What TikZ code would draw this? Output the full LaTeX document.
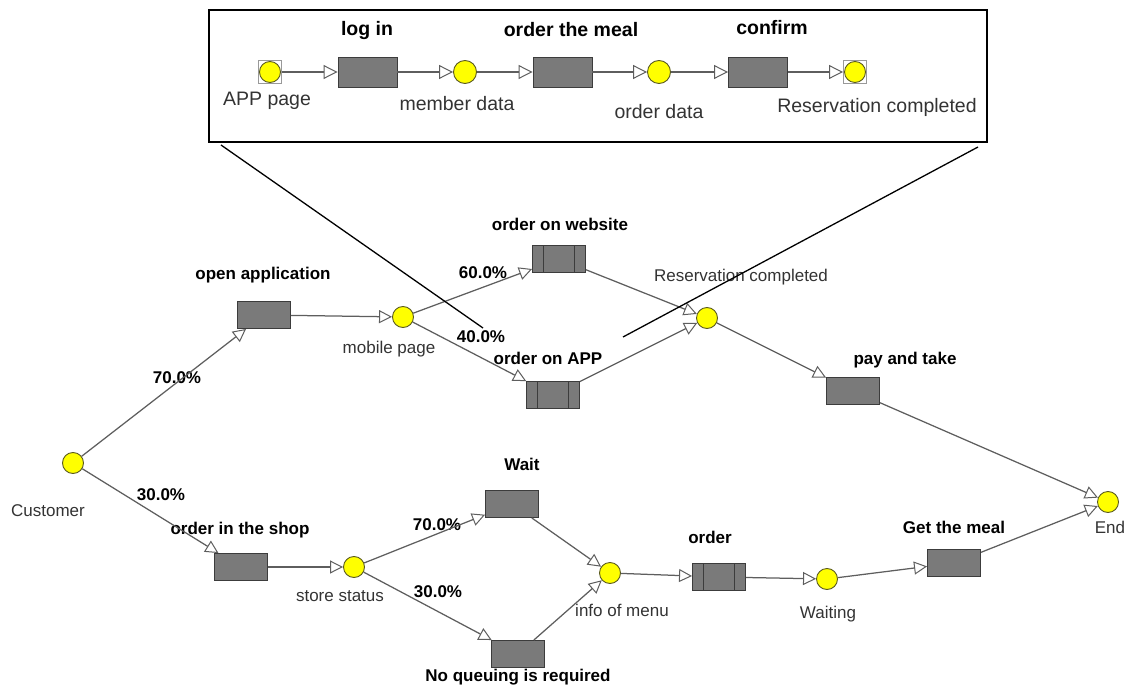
\documentclass[tikz,border=0pt]{standalone}
\usepackage{fontspec}
\setmainfont{Liberation Sans}
\usetikzlibrary{arrows.meta}

\definecolor{placefill}{HTML}{FFFF00}
\definecolor{placeedge}{HTML}{5A5A20}
\definecolor{taskfill}{HTML}{7A7A7A}
\definecolor{taskedge}{HTML}{3C3C3C}
\definecolor{flowline}{HTML}{5E5E5E}
\definecolor{labeltext}{HTML}{333333}

\tikzset{
  place/.style={circle, draw=placeedge, line width=0.9pt, fill=placefill,
    minimum size=21pt, inner sep=0pt},
  bigplace/.style={place, minimum size=23pt},
  endpoint/.style={rectangle, draw=gray!80, line width=0.9pt, minimum size=23pt,
    inner sep=0pt, path picture={\filldraw[fill=placefill, draw=placeedge, line width=0.9pt]
      (path picture bounding box.center) circle (10.5pt);}},
  task/.style={rectangle, draw=taskedge, line width=0.9pt, fill=taskfill,
    minimum width=53pt, minimum height=27pt, inner sep=0pt},
  bigtask/.style={task, minimum width=59pt, minimum height=30pt},
  subtask/.style={task, path picture={\draw[taskedge, line width=0.9pt]
      ([xshift=11pt]path picture bounding box.south west) -- ([xshift=11pt]path picture bounding box.north west)
      ([xshift=-11pt]path picture bounding box.south east) -- ([xshift=-11pt]path picture bounding box.north east);}},
  flow/.style={draw=flowline, line width=1.25pt, -{Triangle[length=13pt, width=13pt, fill=white, line width=1pt]}},
  bigflow/.style={draw=flowline, line width=1.25pt, -{Triangle[length=14pt, width=14pt, fill=white, line width=1pt]}},
  title/.style={font=\fontsize{17}{20}\selectfont\bfseries, text=black, inner sep=0pt},
  bigtitle/.style={font=\fontsize{19.5}{22}\selectfont\bfseries, text=black, inner sep=0pt},
  caption/.style={font=\fontsize{17}{20}\selectfont, text=labeltext, inner sep=0pt},
  bigcaption/.style={font=\fontsize{19.5}{22}\selectfont, text=labeltext, inner sep=0pt},
  zoomline/.style={draw=black, line width=1.3pt},
}

\begin{document}
\begin{tikzpicture}[x=1pt, y=-1pt]
\useasboundingbox (0,0) rectangle (1133,690);

% ---------- detail frame: the APP ordering sub-process ----------
\node[draw=black, line width=2pt, minimum width=778pt, minimum height=132pt, inner sep=0pt]
  (frame) at (598,76) {};

\node[endpoint] (appPage) at (270,72) {};
\node[bigtask]  (login)   at (367.5,72) {};
\node[bigplace] (member)  at (465,72) {};
\node[bigtask]  (meal)    at (562.5,72) {};
\node[bigplace] (orderd)  at (659,72) {};
\node[bigtask]  (confirm) at (758,72) {};
\node[endpoint] (resIn)   at (855,72) {};

\node[bigtitle] (tLogin)   at (367,31) {log in};
\node[bigtitle] (tMeal)    at (571,30) {order the meal};
\node[bigtitle] (tConfirm) at (772,28) {confirm};
\node[bigcaption] (cApp)    at (267,101) {APP page};
\node[bigcaption] (cMember) at (457,104) {member data};
\node[bigcaption] (cOrderd) at (659,112) {order data};
\node[bigcaption] (cRes)    at (877,107) {Reservation completed};

\draw[bigflow] (appPage) -- (login);
\draw[bigflow] (login) -- (member);
\draw[bigflow] (member) -- (meal);
\draw[bigflow] (meal) -- (orderd);
\draw[bigflow] (orderd) -- (confirm);
\draw[bigflow] (confirm) -- (resIn);

% ---------- main process ----------
\node[place]   (customer) at (73,463) {};
\node[task]    (openApp)  at (264,315) {};
\node[place]   (mobile)   at (403,317) {};
\node[subtask] (website)  at (559,259) {};
\node[subtask] (onApp)    at (553,395) {};
\node[place]   (reserved) at (707,318) {};
\node[task]    (pay)      at (853,391) {};
\node[place]   (finish)   at (1108,502) {};

\node[task]    (shop)     at (241,567) {};
\node[place]   (store)    at (354,567) {};
\node[task]    (wait)     at (512,504) {};
\node[task]    (noQueue)  at (518,654) {};
\node[place]   (menu)     at (610,573) {};
\node[subtask] (order)    at (719,577) {};
\node[place]   (waiting)  at (827,579) {};
\node[task]    (meal2)    at (954,563) {};

% titles
\node[title] (lOpen)    at (263,275) {open application};
\node[title] (lWebsite) at (560,224) {order on website};
\node[title] (lOnApp)   at (548,358) {order on APP};
\node[title] (lPay)     at (905,360) {pay and take};
\node[title] (lShop)    at (240,530) {order in the shop};
\node[title] (lWait)    at (522,464) {Wait};
\node[title] (lOrder)   at (710,537) {order};
\node[title] (lMeal)    at (954,527) {Get the meal};
\node[title] (lNoQueue) at (518,677) {No queuing is required};

% branch shares
\node[title] (p70a) at (177,378) {70.0\%};
\node[title] (p30a) at (161,495) {30.0\%};
\node[title] (p60)  at (483,273) {60.0\%};
\node[title] (p40)  at (481,337) {40.0\%};
\node[title] (p70b) at (437,525) {70.0\%};
\node[title] (p30b) at (438,592) {30.0\%};

% state captions
\node[caption] (cCustomer) at (48,511)  {Customer};
\node[caption] (cMobile)   at (389,349) {mobile page};
\node[caption] (cReserved) at (741,277) {Reservation completed};
\node[caption] (cStore)    at (340,596) {store status};
\node[caption] (cMenu)     at (622,610) {info of menu};
\node[caption] (cWaiting)  at (828,614) {Waiting};
\node[caption] (cEnd)      at (1110,527) {End};

% flows
\draw[flow] (customer) -- (openApp);
\draw[flow] (openApp) -- (mobile);
\draw[flow] (mobile) -- (website);
\draw[flow] (mobile) -- (onApp);
\draw[flow] (website) -- (reserved);
\draw[flow] (onApp) -- (reserved);
\draw[flow] (reserved) -- (pay);
\draw[flow] (pay) -- (finish);

\draw[flow] (customer) -- (shop);
\draw[flow] (shop) -- (store);
\draw[flow] (store) -- (wait);
\draw[flow] (store) -- (noQueue);
\draw[flow] (wait) -- (menu);
\draw[flow] (noQueue) -- (menu);
\draw[flow] (menu) -- (order);
\draw[flow] (order) -- (waiting);
\draw[flow] (waiting) -- (meal2);
\draw[flow] (meal2) -- (finish);

% lines tying the detail frame to the APP ordering step
\coordinate (zoomL0) at (221,145);
\coordinate (zoomL1) at (483,328);
\coordinate (zoomR0) at (978,147);
\coordinate (zoomR1) at (623,337);
\draw[zoomline] (zoomL0) -- (zoomL1);
\draw[zoomline] (zoomR0) -- (zoomR1);
\end{tikzpicture}
\end{document}
